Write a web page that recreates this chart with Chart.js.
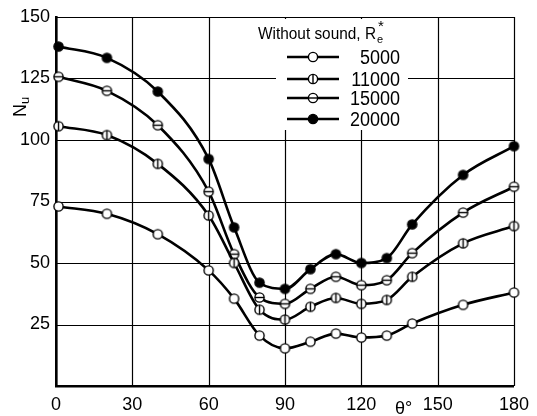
<!DOCTYPE html>
<html>
  <head>
    <meta charset="UTF-8">
    <title>Nu vs angle</title>
    <script src="https://cdn.jsdelivr.net/npm/chart.js@4.4.1/dist/chart.umd.min.js"></script>
    <style>
      html, body { margin: 0; padding: 0; background: #fff; }
      #wrap { width: 537px; height: 416px; }
    </style>
  </head>
  <body>
    <div id="wrap"><canvas id="nu-chart" width="537" height="416"></canvas></div>
    <script>
      // data
      const angles = [1, 20, 40, 60, 70, 80, 90, 100, 110, 120, 130, 140, 160, 180]
      const nu5000 = [73, 70, 61.7, 47, 35.5, 20.5, 15.3, 18, 21.3, 19.7, 20.5, 25.4, 33, 38]
      const nu11000 = [105.6, 102, 90.3, 69.3, 50, 31, 27, 32.2, 35.8, 33.4, 35, 44.4, 58, 65]
      const nu15000 = [125.7, 120, 106, 79, 53.6, 36, 33.4, 39.5, 44.4, 41, 43, 54, 70.5, 81]
      const nu20000 = [138, 133.4, 119.7, 92.3, 64.5, 42, 39.5, 47.5, 53.6, 50, 52, 65.7, 85.8, 97.5]
      const seriesLabels = ["5000", "11000", "15000", "20000"]
      const xTicks = [0, 30, 60, 90, 120, 150, 180]
      const yTicks = [25, 50, 75, 100, 125, 150]

      const FONT = '"Liberation Sans", Arial, sans-serif'

      // marker kinds: open, vertical bar, horizontal bar, filled
      function drawMarker(c, x, y, kind) {
        const r = 4.6
        c.save()
        c.lineWidth = 1.4
        c.strokeStyle = "#000"
        c.fillStyle = kind == "filled" ? "#000" : "#fff"
        c.beginPath()
        c.arc(x, y, r, 0, Math.PI * 2)
        c.fill()
        c.stroke()
        if (kind == "vbar") {
          c.beginPath(); c.moveTo(x, y - r); c.lineTo(x, y + r); c.stroke()
        }
        if (kind == "hbar") {
          c.beginPath(); c.moveTo(x - r, y); c.lineTo(x + r, y); c.stroke()
        }
        c.restore()
      }

      function markerCanvas(kind) {
        const cv = document.createElement("canvas")
        cv.width = 13; cv.height = 13
        drawMarker(cv.getContext("2d"), 6.5, 6.5, kind)
        return cv
      }

      const kinds = ["open", "vbar", "hbar", "filled"]
      const allSeries = [nu5000, nu11000, nu15000, nu20000]

      const datasets = allSeries.map((s, i) => ({
        label: seriesLabels[i],
        data: angles.map((a, j) => ({ x: a, y: s[j] })),
        borderColor: "#000",
        borderWidth: 2.6,
        pointStyle: markerCanvas(kinds[i]),
        pointRadius: 5,
        cubicInterpolationMode: "monotone",
        clip: false
      }))

      // grid, white legend box, legend, axis titles
      const extras = {
        id: "extras",
        beforeDatasetsDraw(chart) {
          const c = chart.ctx
          const xs = chart.scales.x, ys = chart.scales.y
          const a = chart.chartArea
          c.save()
          c.strokeStyle = "#000"
          c.lineWidth = 1.2
          xTicks.forEach(v => {
            const px = Math.round(xs.getPixelForValue(v)) + 0.5
            c.beginPath(); c.moveTo(px, a.top); c.lineTo(px, a.bottom); c.stroke()
          })
          yTicks.forEach(v => {
            const py = Math.round(ys.getPixelForValue(v)) + 0.5
            c.beginPath(); c.moveTo(a.left, py); c.lineTo(a.right, py); c.stroke()
          })
          c.fillStyle = "#fff"
          c.fillRect(276, 19, 132, 111)
          c.restore()
        },
        afterDraw(chart) {
          const c = chart.ctx
          c.save()
          c.fillStyle = "#000"
          c.textBaseline = "alphabetic"

          // legend title
          c.font = "15px " + FONT
          const title = "Without sound, R"
          const w = c.measureText(title).width
          c.save()
          c.translate(258, 39)
          c.scale(118 / w, 1.1)
          c.fillText(title, 0, 0)
          c.restore()
          c.font = "11px " + FONT
          c.fillText("e", 377, 43)
          c.font = "15px " + FONT
          c.fillText("*", 378, 31)

          // legend rows
          const rowsY = [57, 79, 98, 119]
          rowsY.forEach((y, i) => {
            c.save()
            c.strokeStyle = "#000"
            c.lineWidth = 2.6
            c.beginPath(); c.moveTo(287, y); c.lineTo(339, y); c.stroke()
            c.restore()
            drawMarker(c, 313, y, kinds[i])
            c.save()
            c.font = "18px " + FONT
            c.textAlign = "right"
            c.translate(400, y + 7)
            c.scale(1, 1.15)
            c.fillText(seriesLabels[i], 0, 0)
            c.restore()
          })

          // y title Nu (rotated)
          c.save()
          c.translate(26, 117)
          c.rotate(-Math.PI / 2)
          c.font = "18px " + FONT
          c.fillText("N", 0, 0)
          c.font = "13px " + FONT
          c.fillText("u", 13, 3)
          c.restore()

          // x title
          c.font = "18px " + FONT
          c.fillText("θ°", 395, 414)
          c.restore()
        }
      }

      const tickFont = { family: FONT, size: 18 }

      new Chart(document.getElementById("nu-chart"), {
        type: "line",
        data: { datasets: datasets },
        options: {
          responsive: false,
          animation: false,
          layout: { padding: { top: 17, right: 18, left: 0, bottom: 0 } },
          plugins: { legend: { display: false }, tooltip: { enabled: false } },
          scales: {
            x: {
              type: "linear",
              min: 0, max: 180,
              afterBuildTicks: ax => { ax.ticks = xTicks.map(v => ({ value: v })) },
              afterFit: ax => { ax.height = 30 },
              ticks: { color: "#000", font: tickFont, padding: 8, maxRotation: 0 },
              grid: { display: false, drawTicks: false },
              border: { color: "#000", width: 2.6 }
            },
            y: {
              min: 0, max: 150,
              afterBuildTicks: ax => { ax.ticks = [0].concat(yTicks).map(v => ({ value: v })) },
              afterFit: ax => { ax.width = 56 },
              ticks: {
                color: "#000", font: tickFont, padding: 6,
                callback: v => v == 0 ? "" : v
              },
              grid: { display: false, drawTicks: false },
              border: { color: "#000", width: 2.6 }
            }
          }
        },
        plugins: [extras]
      })
    </script>
  </body>
</html>
